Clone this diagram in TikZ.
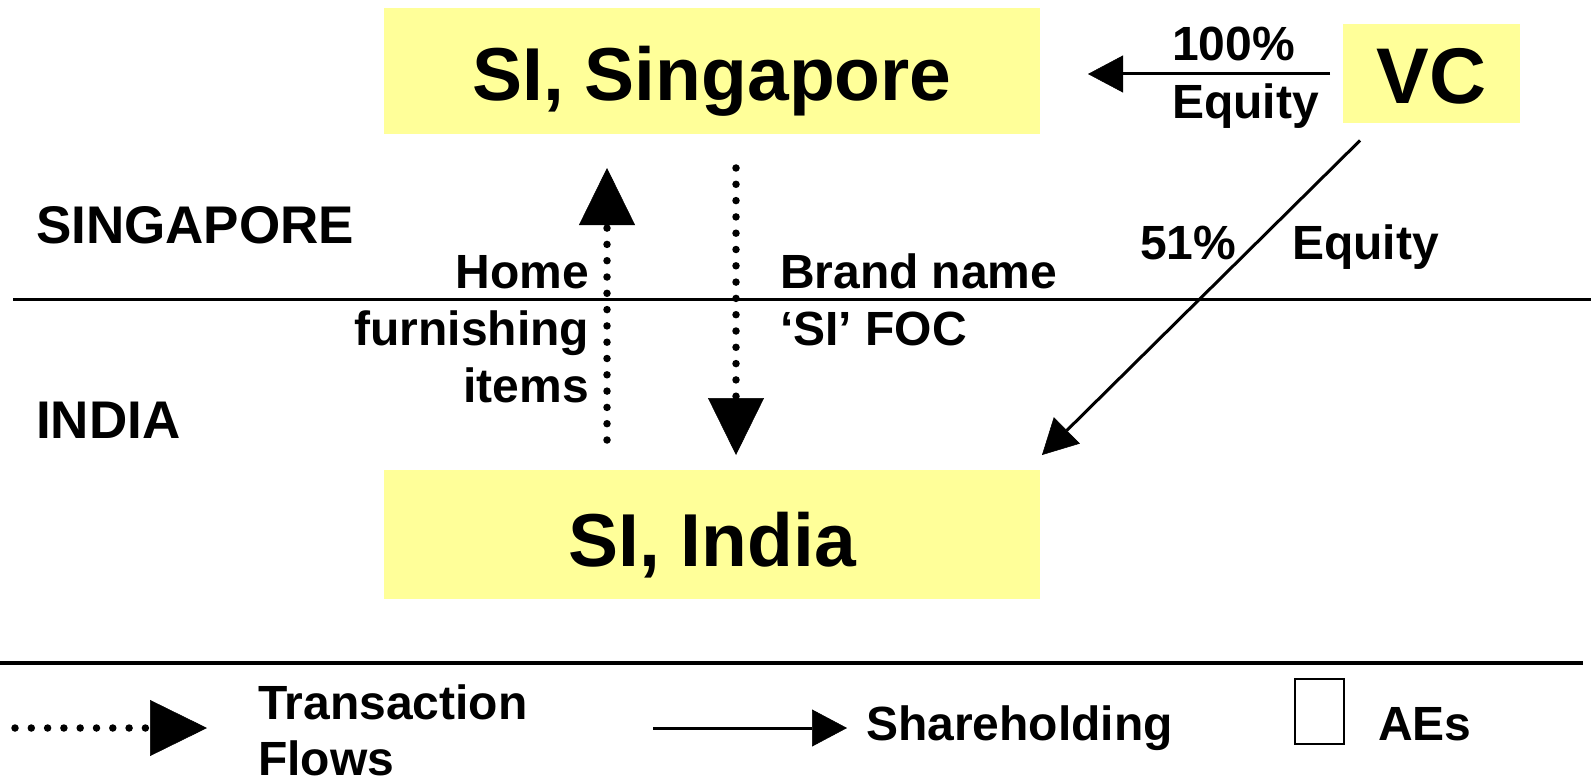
\documentclass[tikz,border=0pt]{standalone}
\usepackage{fontspec}
\setmainfont{Liberation Sans}
\usetikzlibrary{arrows.meta}
\definecolor{aeyellow}{HTML}{FFFF99}
\begin{document}
\begin{tikzpicture}[
  x=1pt, y=-1pt,
  every node/.style={inner sep=0pt, outer sep=0pt},
  entity/.style={fill=aeyellow, draw=none},
  title/.style={font=\fontsize{75}{90}\selectfont\bfseries},
  bigtitle/.style={font=\fontsize{79}{95}\selectfont\bfseries},
  lbl/.style={font=\fontsize{48}{57}\selectfont\bfseries},
  region/.style={font=\fontsize{53}{63}\selectfont\bfseries},
  txflow/.style={line width=7.5pt, line cap=round, dash pattern=on 0pt off 16.3pt,
    -{Triangle[length=57pt, width=56pt, line width=0.5pt]}},
  share/.style={line width=3pt,
    -{Triangle[length=35pt, width=37pt, line width=0.5pt]}},
  rule/.style={line width=3pt}
]
\useasboundingbox (0,0) rectangle (1591,781);

% entities
\node[entity, title, minimum width=656pt, minimum height=126pt,
      text height=60pt, text depth=0pt] (sg) at (712,71) {SI, Singapore};
\node[entity, title, minimum width=656pt, minimum height=129pt,
      text height=63pt, text depth=0pt] (in) at (712,534.5) {SI, India};
\node[entity, bigtitle, minimum width=177pt, minimum height=99pt,
      text height=59pt, text depth=0pt] (vc) at (1431.5,74) {VC};

% border between the two countries
\coordinate (bl) at (13,299);
\coordinate (br) at (1591,299);
\draw[rule] (bl) -- (br);
\node[region, anchor=base west] (lsg) at (36,243) {SINGAPORE};
\node[region, anchor=base west] (lin) at (36,438) {INDIA};

% shareholdings
\draw[share, shorten <=13pt, shorten >=48pt] (vc.west) -- (vc.west -| sg.east);
\node[lbl, anchor=base west] (p100) at (1172,61) {100\%};
\node[lbl, anchor=base west] (e100) at (1172,119) {Equity};

\draw[share] ([xshift=17pt, yshift=-17pt]vc.south west) -- ([xshift=2pt, yshift=15pt]in.north east);
\node[lbl, anchor=base west] (p51) at (1140,259) {51\%};
\node[lbl, anchor=base west] (e51) at (1292,259) {Equity};

% transaction flows
\draw[txflow, shorten <=30pt, shorten >=34pt] ([xshift=-105pt]in.north) -- ([xshift=-105pt]sg.south);
\draw[txflow, shorten <=34pt, shorten >=15pt] ([xshift=24pt]sg.south) -- ([xshift=24pt]in.north);

\node[lbl, anchor=base east] (h1) at (589,288) {Home};
\node[lbl, anchor=base east] (h2) at (589,345) {furnishing};
\node[lbl, anchor=base east] (h3) at (589,402) {items};

\node[lbl, anchor=base west] (b1) at (780,288) {Brand name};
\node[lbl, anchor=base west] (b2) at (780,345) {‘SI’ FOC};

% legend
\coordinate (gl) at (0,663);
\coordinate (gr) at (1583,663);
\draw[line width=3.5pt] (gl) -- (gr);

\coordinate (ta) at (15,728);
\coordinate (tb) at (207,728);
\draw[txflow] (ta) -- (tb);
\node[lbl, anchor=base west] (t1) at (258,719) {Transaction};
\node[lbl, anchor=base west] (t2) at (258,775) {Flows};

\coordinate (sa) at (653,728);
\coordinate (sb) at (847,728);
\draw[share] (sa) -- (sb);
\node[lbl, anchor=base west] (sh) at (866,740) {Shareholding};

\node[draw, line width=2pt, minimum width=49pt, minimum height=65pt] (ae) at (1319.5,711.5) {};
\node[lbl, anchor=base west] (aes) at (1378,740) {AEs};
\end{tikzpicture}
\end{document}
